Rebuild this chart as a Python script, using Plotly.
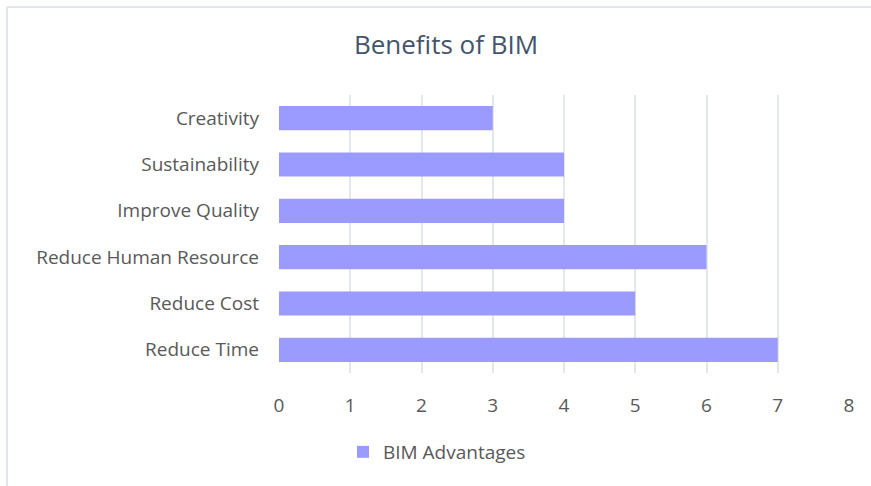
import plotly.graph_objects as go

# Survey results: number of respondents citing each benefit
categories = ["Reduce Time", "Reduce Cost", "Reduce Human Resource",
              "Improve Quality", "Sustainability", "Creativity"]
values = [7, 5, 6, 4, 4, 3]
x_ticks = [0, 1, 2, 3, 4, 5, 6, 7, 8]
series_name = "BIM Advantages"

BAR_COLOR = "#9b9bff"
TEXT_COLOR = "#595959"
GRID_COLOR = "#e3e6eb"
FONT = "Open Sans"
LABEL_SIZE = 19

fig = go.Figure(
    go.Bar(
        x=values,
        y=categories,
        orientation="h",
        name=series_name,
        marker=dict(color=BAR_COLOR, line=dict(width=0)),
        showlegend=True,
    )
)

fig.update_layout(
    width=871,
    height=486,
    margin=dict(l=279, r=22, t=95, b=113),
    paper_bgcolor="white",
    plot_bgcolor="white",
    bargap=0.48,
    title=dict(
        text="Benefits of BIM",
        x=446 / 871,
        xref="container",
        xanchor="center",
        y=1 - 45 / 486,
        yref="container",
        yanchor="middle",
        font=dict(family=FONT, size=26, color="#44546a"),
    ),
    font=dict(family=FONT, size=LABEL_SIZE, color=TEXT_COLOR),
    xaxis=dict(
        range=[0, 8],
        tickvals=x_ticks,
        showgrid=True,
        gridcolor=GRID_COLOR,
        gridwidth=2,
        zeroline=False,
        showline=False,
        ticks="",
        ticklabelstandoff=19,
        tickfont=dict(family=FONT, size=LABEL_SIZE, color=TEXT_COLOR),
        fixedrange=True,
    ),
    yaxis=dict(
        categoryorder="array",
        categoryarray=categories,
        showgrid=False,
        zeroline=False,
        showline=False,
        ticks="",
        ticklabelstandoff=19,
        tickfont=dict(family=FONT, size=LABEL_SIZE, color=TEXT_COLOR),
        fixedrange=True,
    ),
    legend=dict(
        orientation="h",
        x=(437 - 279) / 570,
        xanchor="center",
        y=(373 - 452) / 278,
        yanchor="middle",
        font=dict(family=FONT, size=LABEL_SIZE, color=TEXT_COLOR),
        itemwidth=30,
    ),
    shapes=[
        # light frame along the top and left edges of the chart area
        dict(type="line", xref="paper", yref="paper",
             x0=(7 - 279) / 570, x1=(871 - 279) / 570,
             y0=(373 - 7) / 278, y1=(373 - 7) / 278,
             line=dict(color="#e2e6ec", width=2), layer="below"),
        dict(type="line", xref="paper", yref="paper",
             x0=(7 - 279) / 570, x1=(7 - 279) / 570,
             y0=(373 - 7) / 278, y1=(373 - 486) / 278,
             line=dict(color="#e2e6ec", width=2), layer="below"),
    ],
)

fig.write_html("out.html")
